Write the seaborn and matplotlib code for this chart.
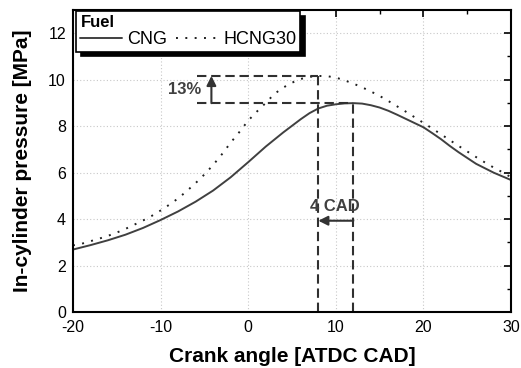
import numpy as np
import pandas as pd
import matplotlib
matplotlib.use("Agg")
import matplotlib.pyplot as plt
import seaborn as sns

# ---- data ----
cng_x = [-20, -18, -16, -14, -12, -10, -8, -6, -4, -2, 0, 2, 4, 6, 7, 8, 9, 10, 11, 12, 13,
         14, 15, 16, 17, 18, 19, 20, 21, 22, 23, 24, 26, 28, 30]
cng_y = [2.69, 2.88, 3.09, 3.33, 3.62, 3.96, 4.33, 4.75, 5.23, 5.80, 6.45, 7.12, 7.73,
         8.30, 8.56, 8.76, 8.88, 8.94, 8.98, 8.99, 8.97, 8.90, 8.80, 8.66, 8.49, 8.31,
         8.13, 7.95, 7.70, 7.44, 7.15, 6.88, 6.38, 6.00, 5.68]

hcng_x = list(range(-20, 31))
hcng_y = [2.87, 2.94, 3.05, 3.16, 3.28, 3.42, 3.58, 3.76, 3.94, 4.14, 4.37, 4.62, 4.89,
          5.21, 5.55, 5.92, 6.33, 6.79, 7.29, 7.75, 8.24, 8.63, 9.00, 9.39, 9.66, 9.87,
          10.03, 10.12, 10.16, 10.15, 10.09, 9.97, 9.83, 9.67, 9.49, 9.30, 9.08, 8.85,
          8.62, 8.38, 8.14, 7.90, 7.65, 7.40, 7.15, 6.91, 6.67, 6.44, 6.22, 6.02, 5.80]

labels = ["CNG", "HCNG30"]
x_ticks = [-20, -10, 0, 10, 20, 30]
y_ticks = [0, 2, 4, 6, 8, 10, 12]

df = pd.concat([
    pd.DataFrame({"angle": cng_x, "p": cng_y, "Fuel": labels[0]}),
    pd.DataFrame({"angle": hcng_x, "p": hcng_y, "Fuel": labels[1]}),
])

sns.set_theme(style="white")
plt.rcParams["font.family"] = ["Liberation Sans", "DejaVu Sans"]
plt.rcParams["axes.unicode_minus"] = False
plt.rcParams["text.color"] = "black"
plt.rcParams["axes.labelcolor"] = "black"

fig = plt.figure(figsize=(5.21, 3.68), dpi=100)
ax = fig.add_axes([0.140, 0.152, 0.841, 0.821])

line_col = "#404040"
dot_dash = (1, 3.8)
sns.lineplot(data=df, x="angle", y="p", hue="Fuel", style="Fuel",
             palette={labels[0]: line_col, labels[1]: "#202020"},
             dashes={labels[0]: "", labels[1]: dot_dash},
             linewidth=1.4, ax=ax, legend=False)

ax.set_xlim(-20, 30)
ax.set_ylim(0, 13)
ax.set_xticks(x_ticks)
ax.set_yticks(y_ticks)
ax.set_xticks(np.arange(-15, 30, 10), minor=True)
ax.set_yticks(np.arange(1, 13, 2), minor=True)
ax.tick_params(axis="both", which="both", direction="in", top=True, right=True,
               labelsize=11.5, colors="black")
ax.tick_params(axis="x", which="major", pad=6)
ax.tick_params(axis="y", which="major", pad=5)
ax.tick_params(which="major", length=5, width=1.2)
ax.tick_params(which="minor", length=3, width=1.0)
ax.grid(True, which="major", linestyle=(0, (1, 2)), color="#c8c8c8", linewidth=0.8)
for s in ax.spines.values():
    s.set_color("black")
    s.set_linewidth(1.5)

ax.set_xlabel("Crank angle [ATDC CAD]", fontsize=15, fontweight="bold", labelpad=8,
              color="black")
ax.set_ylabel("In-cylinder pressure [MPa]", fontsize=15, fontweight="bold", labelpad=12,
              color="black")

# ---- annotations derived from data ----
i_c = int(np.argmax(cng_y)); i_h = int(np.argmax(hcng_y))
xc, pc = cng_x[i_c], cng_y[i_c]
xh, ph = hcng_x[i_h], hcng_y[i_h]
dash_col = "#303030"
dls = (0, (4.5, 2.3))
x0 = -5.8
ax.plot([x0, xh], [ph, ph], color=dash_col, lw=1.5, ls=dls)
ax.plot([x0, xc], [pc, pc], color=dash_col, lw=1.5, ls=dls)
ax.plot([xh, xh], [0, ph], color=dash_col, lw=1.5, ls=dls)
ax.plot([xc, xc], [0, pc], color=dash_col, lw=1.5, ls=dls)

ax.annotate("", xy=(-4.2, ph), xytext=(-4.2, pc),
            arrowprops=dict(arrowstyle="-|>", color="#333333", lw=1.5,
                            mutation_scale=14, shrinkA=0, shrinkB=0))
pct = (ph - pc) / pc * 100
ax.text(-7.3, (ph + pc) / 2, f"{pct:.0f}%", ha="center", va="center",
        fontsize=12, fontweight="bold", color="#404040")

ax.annotate("", xy=(xh, 3.93), xytext=(xc, 3.93),
            arrowprops=dict(arrowstyle="-|>", color="#333333", lw=1.5,
                            mutation_scale=14, shrinkA=0, shrinkB=0))
ax.text((xh + xc) / 2 - 0.1, 4.55, f"{xc - xh:.0f} CAD", ha="center", va="center",
        fontsize=12, fontweight="bold", color="#404040")

# ---- legend ----
from matplotlib.lines import Line2D
handles = [Line2D([], [], color=line_col, lw=1.4),
           Line2D([], [], color="#202020", lw=1.4, ls=(0, dot_dash))]
leg = ax.legend(handles, labels, title="Fuel", ncol=2, loc="upper left",
                bbox_to_anchor=(0.008, 0.995), frameon=True, fancybox=False,
                edgecolor="black", framealpha=1, fontsize=13,
                title_fontproperties={"weight": "bold", "size": 12},
                alignment="left", handlelength=2.3, handletextpad=0.3,
                columnspacing=0.5, borderpad=0.22, labelspacing=0.05,
                borderaxespad=0,
                shadow={"ox": 3, "oy": -3, "facecolor": "black",
                        "edgecolor": "black", "alpha": 1})
leg.get_frame().set_linewidth(1.2)

fig.savefig("out.png", dpi=100)
